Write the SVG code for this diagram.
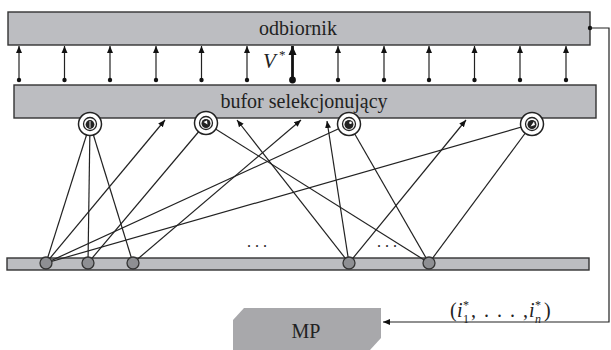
<svg xmlns="http://www.w3.org/2000/svg" width="611" height="350" viewBox="0 0 611 350">
<style>
.box{fill:#bcbdc1;stroke:#333;stroke-width:1.4}
.lbl{font-family:'Liberation Serif','DejaVu Serif',serif;fill:#222}
.ln{stroke:#222;stroke-width:1.2;fill:none}
.ar{stroke:#222;stroke-width:1.2;fill:none;marker-end:url(#ah)}
.dot{fill:#111}
.ring{fill:#fff;stroke:#222;stroke-width:1.5}
.inner{fill:#fff;stroke:#222;stroke-width:1.3}
.core{fill:#222}
.bn{fill:#8e8f93;stroke:#333;stroke-width:1.3}
</style>
<defs>
<marker id="ah" markerUnits="userSpaceOnUse" markerWidth="8" markerHeight="8" viewBox="0 0 8 8" refX="7" refY="4" orient="auto">
<path d="M0,1 L7,4 L0,7 Z" fill="#111"/>
</marker>
<marker id="ahb" markerUnits="userSpaceOnUse" markerWidth="10" markerHeight="10" viewBox="0 0 10 10" refX="9" refY="5" orient="auto">
<path d="M0,1 L9,5 L0,9 Z" fill="#111"/>
</marker>
</defs>

<g id="odbiornik">
<rect class="box" x="8" y="12" width="582" height="33"/>
<text class="lbl" font-family="Liberation Serif, serif" x="298" y="35" font-size="20" text-anchor="middle">odbiornik</text>
</g>

<g id="bufor">
<rect class="box" x="14" y="85" width="582" height="33"/>
<text class="lbl" font-family="Liberation Serif, serif" x="304" y="108" font-size="20" text-anchor="middle">bufor selekcjonujący</text>
</g>

<g id="bottom-bar">
<rect class="box" x="7" y="258" width="582" height="12" stroke-width="1.3"/>
</g>

<g id="MP">
<polygon points="244,308 381,308 381,338 370,350 233,350 233,320" fill="#a8a8ab"/>
<text class="lbl" font-family="Liberation Serif, serif" x="306" y="338" font-size="20" text-anchor="middle">MP</text>
</g>

<g id="connectors">
<g>
<line class="ar" x1="19" y1="80" x2="19" y2="46"/><circle class="dot" cx="19" cy="80" r="2.2"/>
<line class="ar" x1="64.5" y1="80" x2="64.5" y2="46"/><circle class="dot" cx="64.5" cy="80" r="2.2"/>
<line class="ar" x1="110" y1="80" x2="110" y2="46"/><circle class="dot" cx="110" cy="80" r="2.2"/>
<line class="ar" x1="156" y1="80" x2="156" y2="46"/><circle class="dot" cx="156" cy="80" r="2.2"/>
<line class="ar" x1="201.5" y1="80" x2="201.5" y2="46"/><circle class="dot" cx="201.5" cy="80" r="2.2"/>
<line class="ar" x1="247" y1="80" x2="247" y2="46"/><circle class="dot" cx="247" cy="80" r="2.2"/>
<line x1="292.5" y1="80" x2="292.5" y2="46" stroke="#111" stroke-width="2.8" marker-end="url(#ahb)"/><circle class="dot" cx="292.5" cy="80" r="3.4"/>
<line class="ar" x1="338" y1="80" x2="338" y2="46"/><circle class="dot" cx="338" cy="80" r="2.2"/>
<line class="ar" x1="384" y1="80" x2="384" y2="46"/><circle class="dot" cx="384" cy="80" r="2.2"/>
<line class="ar" x1="429" y1="80" x2="429" y2="46"/><circle class="dot" cx="429" cy="80" r="2.2"/>
<line class="ar" x1="474.5" y1="80" x2="474.5" y2="46"/><circle class="dot" cx="474.5" cy="80" r="2.2"/>
<line class="ar" x1="520" y1="80" x2="520" y2="46"/><circle class="dot" cx="520" cy="80" r="2.2"/>
<line class="ar" x1="566" y1="80" x2="566" y2="46"/><circle class="dot" cx="566" cy="80" r="2.2"/>
</g>
<line class="ln" x1="90" y1="124" x2="46" y2="263"/>
<line class="ln" x1="90" y1="124" x2="88" y2="263"/>
<line class="ln" x1="90" y1="124" x2="133" y2="263"/>
<line class="ln" x1="206" y1="123" x2="88" y2="263"/>
<line class="ln" x1="206" y1="123" x2="429" y2="263"/>
<line class="ln" x1="349" y1="124" x2="46" y2="263"/>
<line class="ln" x1="349" y1="124" x2="429" y2="263"/>
<line class="ln" x1="532" y1="124" x2="46" y2="263"/>
<line class="ln" x1="532" y1="124" x2="429" y2="263"/>
<line class="ar" x1="46" y1="263" x2="165" y2="120"/>
<line class="ar" x1="133" y1="263" x2="301" y2="120"/>
<line class="ar" x1="349" y1="263" x2="237" y2="120"/>
<line class="ar" x1="349" y1="263" x2="327" y2="121"/>
<line class="ar" x1="349" y1="263" x2="466" y2="120"/>
<circle class="dot" cx="590" cy="28" r="2.2"/>
<polyline class="ar" points="590,28 609,28 609,322 383,322" stroke-width="1.1"/>
</g>

<g id="ring1"><circle class="ring" cx="90" cy="124" r="11.5"/><circle class="inner" cx="90" cy="124" r="6.5"/><circle class="core" cx="90" cy="124.5" r="4.4"/><line x1="90" y1="121" x2="90" y2="128" stroke="#fff" stroke-width="0.9"/></g>
<g id="ring2"><circle class="ring" cx="206" cy="123" r="11.5"/><circle class="inner" cx="206" cy="123" r="6.5"/><circle class="core" cx="206" cy="123.5" r="4.5"/><path d="M203.5,122 L207,120.5 L207.5,124.5 Z" fill="#fff"/></g>
<g id="ring3"><circle class="ring" cx="349" cy="124" r="11.5"/><circle class="inner" cx="349" cy="124" r="6.5"/><circle class="core" cx="349" cy="124.5" r="4.5"/><circle cx="350.5" cy="122.8" r="1.3" fill="#fff"/></g>
<g id="ring4"><circle class="ring" cx="532" cy="124" r="11.5"/><circle class="inner" cx="532" cy="124" r="6.5"/><circle class="core" cx="532" cy="124.5" r="4.5"/><path d="M530.5,126.5 L534,121.5 L535,125 Z" fill="#fff"/></g>

<g id="node-a"><circle class="bn" cx="46" cy="263" r="6"/></g>
<g id="node-b"><circle class="bn" cx="88" cy="263" r="6"/></g>
<g id="node-c"><circle class="bn" cx="133" cy="263" r="6"/></g>
<g id="node-d"><circle class="bn" cx="349" cy="263" r="6"/></g>
<g id="node-e"><circle class="bn" cx="429" cy="263" r="6"/></g>

<g id="labels" font-family="Liberation Serif, serif" fill="#222">
<text x="263" y="68" font-size="21" font-style="italic">V</text>
<text x="279" y="59" font-size="13">*</text>
<text x="257" y="247" font-size="16" text-anchor="middle">. . .</text>
<text x="387" y="247" font-size="16" text-anchor="middle">. . .</text>
<text x="450" y="317" font-size="20">(</text>
<text x="457" y="317" font-size="20" font-style="italic">i</text>
<text x="463" y="309" font-size="12">*</text>
<text x="463" y="323" font-size="12">1</text>
<text x="471" y="317" font-size="20" letter-spacing="1.5">, . . . ,</text>
<text x="529" y="317" font-size="20" font-style="italic">i</text>
<text x="535" y="309" font-size="12">*</text>
<text x="535" y="323" font-size="12" font-style="italic">n</text>
<text x="544" y="317" font-size="20">)</text>
</g>
</svg>
